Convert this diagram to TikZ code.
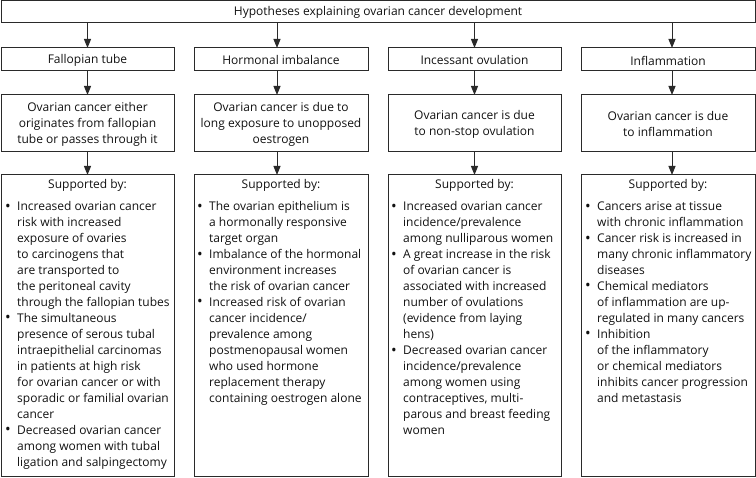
\documentclass[tikz,border=0pt]{standalone}
\usepackage{fontspec}
\setmainfont{Open Sans}
\usetikzlibrary{arrows.meta}
\definecolor{linec}{HTML}{2A2A2A}
\definecolor{textc}{HTML}{111111}
\newcommand{\fs}{\fontsize{12}{16}\selectfont}
\newcommand{\bu}{\strut\makebox[12pt][l]{\raisebox{-0.6pt}{\fontsize{15}{15}\selectfont\textbullet}}}
\newcommand{\ii}{\strut\hspace*{12pt}}
\tikzset{
 box/.style={draw=linec, line width=1pt, inner sep=0pt, outer sep=0pt, anchor=north west},
 lbl/.style={font=\fs, align=center, inner sep=0pt, text=textc},
 blist/.style={font=\fs, align=left, inner sep=0pt, anchor=north west, text=textc},
 arr/.style={draw=linec, line width=1pt, -{Triangle[length=9pt,width=7pt]}},
}
\begin{document}
\begin{tikzpicture}[x=1pt,y=-1pt]
\useasboundingbox (0,0) rectangle (756,478);
% top
\node[box, minimum width=754, minimum height=22] (top) at (1,1) {};
\node[lbl] (toptxt) at (top.center) {Hypotheses explaining ovarian cancer development};
% row 2
\node[box, minimum width=173, minimum height=23] (h1) at (1,48) {};
\node[box, minimum width=174, minimum height=23] (h2) at (194,48) {};
\node[box, minimum width=173, minimum height=23] (h3) at (388,48) {};
\node[box, minimum width=174, minimum height=23] (h4) at (581,48) {};
\node[lbl] (t1) at ([yshift=-1pt]h1.center) {Fallopian tube};
\node[lbl] (t2) at ([yshift=-1pt]h2.center) {Hormonal imbalance};
\node[lbl] (t3) at ([yshift=-1pt]h3.center) {Incessant ovulation};
\node[lbl] (t4) at ([yshift=-1pt]h4.center) {Inflammation};
% row 3
\node[box, minimum width=173, minimum height=57] (d1) at (1,95) {};
\node[box, minimum width=174, minimum height=57] (d2) at (194,95) {};
\node[box, minimum width=173, minimum height=57] (d3) at (388,95) {};
\node[box, minimum width=174, minimum height=57] (d4) at (581,95) {};
\node[lbl] (u1) at ([yshift=-1pt]d1.center) {Ovarian cancer either\\originates from fallopian\\tube or passes through it};
\node[lbl] (u2) at ([yshift=-1pt]d2.center) {Ovarian cancer is due to\\long exposure to unopposed\\oestrogen};
\node[lbl] (u3) at ([yshift=-1pt]d3.center) {Ovarian cancer is due\\to non-stop ovulation};
\node[lbl] (u4) at ([yshift=-1pt]d4.center) {Ovarian cancer is due\\to inflammation};
% row 4
\node[box, minimum width=173, minimum height=302] (s1) at (1,175) {};
\node[box, minimum width=174, minimum height=302] (s2) at (194,175) {};
\node[box, minimum width=173, minimum height=302] (s3) at (388,175) {};
\node[box, minimum width=174, minimum height=302] (s4) at (581,175) {};
\node[lbl] (p1) at (87.5,185) {Supported by:};
\node[lbl] (p2) at (281,185) {Supported by:};
\node[lbl] (p3) at (474.5,185) {Supported by:};
\node[lbl] (p4) at (668,185) {Supported by:};
\node[blist] (b1) at (5,199) {\bu Increased ovarian cancer\\\ii risk with increased\\\ii exposure of ovaries\\\ii to carcinogens that\\\ii are transported to\\\ii the peritoneal cavity\\\ii through the fallopian tubes\\
\bu The simultaneous\\\ii presence of serous tubal\\\ii intraepithelial carcinomas\\\ii in patients at high risk\\\ii for ovarian cancer or with\\\ii sporadic or familial ovarian\\\ii cancer\\
\bu Decreased ovarian cancer\\\ii among women with tubal\\\ii ligation and salpingectomy};
\node[blist] (b2) at (197,199) {\bu The ovarian epithelium is\\\ii a hormonally responsive\\\ii target organ\\
\bu Imbalance of the hormonal\\\ii environment increases\\\ii the risk of ovarian cancer\\
\bu Increased risk of ovarian\\\ii cancer incidence/\\\ii prevalence among\\\ii postmenopausal women\\\ii who used hormone\\\ii replacement therapy\\\ii containing oestrogen alone};
\node[blist] (b3) at (391,199) {\bu Increased ovarian cancer\\\ii incidence/prevalence\\\ii among nulliparous women\\
\bu A great increase in the risk\\\ii of ovarian cancer is\\\ii associated with increased\\\ii number of ovulations\\\ii (evidence from laying\\\ii hens)\\
\bu Decreased ovarian cancer\\\ii incidence/prevalence\\\ii among women using\\\ii contraceptives, multi-\\\ii parous and breast feeding\\\ii women};
\node[blist] (b4) at (585,199) {\bu Cancers arise at tissue\\\ii with chronic inflammation\\
\bu Cancer risk is increased in\\\ii many chronic inflammatory\\\ii diseases\\
\bu Chemical mediators\\\ii of inflammation are up-\\\ii regulated in many cancers\\
\bu Inhibition\\\ii of the inflammatory\\\ii or chemical mediators\\\ii inhibits cancer progression\\\ii and metastasis};
% arrows
\draw[arr] (top.south -| h1.north) -- (h1.north);
\draw[arr] ([xshift=-4pt]top.south -| h2.north) -- ([xshift=-4pt]h2.north);
\draw[arr] (top.south -| h3.north) -- (h3.north);
\draw[arr] ([xshift=4pt]top.south -| h4.north) -- ([xshift=4pt]h4.north);
\draw[arr] (h1.south) -- (d1.north);
\draw[arr] ([xshift=-4pt]h2.south) -- ([xshift=-4pt]d2.north);
\draw[arr] (h3.south) -- (d3.north);
\draw[arr] ([xshift=4pt]h4.south) -- ([xshift=4pt]d4.north);
\draw[arr] (d1.south) -- (s1.north);
\draw[arr] ([xshift=-4pt]d2.south) -- ([xshift=-4pt]s2.north);
\draw[arr] (d3.south) -- (s3.north);
\draw[arr] ([xshift=4pt]d4.south) -- ([xshift=4pt]s4.north);
\end{tikzpicture}
\end{document}
